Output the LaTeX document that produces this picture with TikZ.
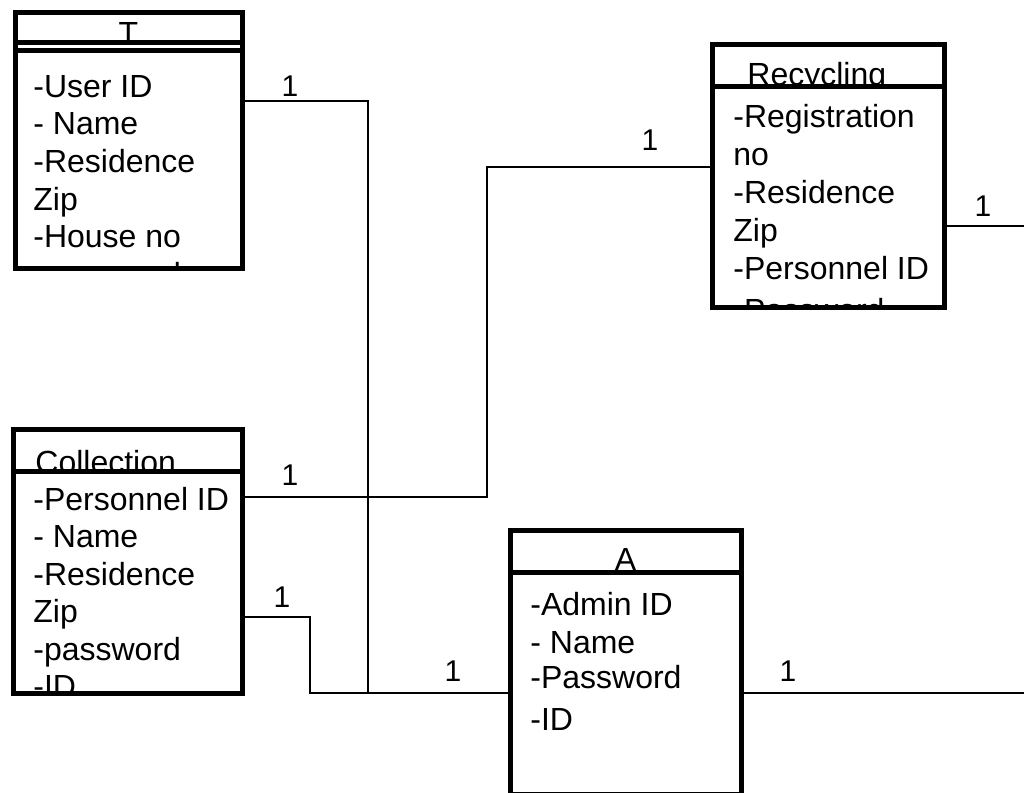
\documentclass[tikz,border=0pt]{standalone}
\usepackage{fontspec}
\setmainfont{Liberation Sans}
\usetikzlibrary{positioning,fit}

\begin{document}
\begin{tikzpicture}[x=0.5pt,y=-0.5pt]
	\tikzstyle{classbox}=[draw,line width=2.5pt,inner sep=0pt,outer sep=0pt]
	\tikzstyle{divider}=[line width=2.5pt]
	\tikzstyle{title}=[inner sep=0pt,font=\fontsize{16}{19}\selectfont]
	\tikzstyle{attr}=[inner sep=0pt,anchor=base west,font=\fontsize{16}{19}\selectfont]
	\tikzstyle{link}=[line width=1pt]
	\tikzstyle{mult}=[inner sep=0pt,font=\fontsize{15}{18}\selectfont]

	\useasboundingbox[fill=white] (0,0) rectangle (1024,793);

	% Class T
	\node[classbox,fit={(15,12) (242,268)}] (T) {};
	\begin{scope}
		\clip (T.north west) rectangle (T.east |- 0,42);
		\node[title,anchor=base] (T-title) at (128.5,44) {T};
	\end{scope}
	\draw[divider] (T.west |- 0,42.5) -- (T.east |- 0,42.5);
	\draw[divider] (T.west |- 0,50.5) -- (T.east |- 0,50.5);
	\begin{scope}
		\clip (T.south west) rectangle (T.north east);
		\foreach \t [count=\i] in {-User ID,- Name,-Residence,Zip,-House no,-password}
			\node[attr] (T-\i) at (33,{97+37.7*(\i-1)}) {\t};
	\end{scope}

	% Class Recycling
	\node[classbox,fit={(712,44) (944,307)}] (Rec) {};
	\begin{scope}
		\clip (Rec.north west) rectangle (Rec.east |- 0,86);
		\node[title,anchor=base west] (Rec-title) at (747,85) {Recycling};
	\end{scope}
	\draw[divider] (Rec.west |- 0,86) -- (Rec.east |- 0,86);
	\begin{scope}
		\clip (Rec.south west) rectangle (Rec.north east);
		\foreach \t [count=\i] in {-Registration,no,-Residence,Zip,-Personnel ID}
			\node[attr] (Rec-\i) at (733,{127+38*(\i-1)}) {\t};
		\node[attr] (Rec-6) at (733,321) {-Password};
	\end{scope}

	% Class Collection
	\node[classbox,fit={(13,429) (242,693)}] (Coll) {};
	\begin{scope}
		\clip (Coll.north west) rectangle (Coll.east |- 0,471);
		\node[title,anchor=base west] (Coll-title) at (35,473) {Collection};
	\end{scope}
	\draw[divider] (Coll.west |- 0,471) -- (Coll.east |- 0,471);
	\begin{scope}
		\clip (Coll.south west) rectangle (Coll.north east);
		\foreach \t [count=\i] in {-Personnel ID,- Name,-Residence,Zip,-password,-ID}
			\node[attr] (Coll-\i) at (33,{510+37.5*(\i-1)}) {\t};
	\end{scope}

	% Class A
	\node[classbox,fit={(510,530) (741,794)}] (A) {};
	\begin{scope}
		\clip (A.north west) rectangle (A.east |- 0,572);
		\node[title,anchor=base] (A-title) at (625.5,570) {A};
	\end{scope}
	\draw[divider] (A.west |- 0,572) -- (A.east |- 0,572);
	\foreach \y/\t [count=\i] in {615/-Admin ID,653/- Name,688/-Password,730/-ID}
		\node[attr] (A-\i) at (530,\y) {\t};

	% Associations
	\coordinate (edgeA) at (1024,693);
	\coordinate (edgeR) at (1024,226);
	\draw[link] (T.east |- 0,101) -| (368,693) -- (A.west |- 0,693);
	\draw[link] (Coll.east |- 0,617) -| (310,693) -- (A.west |- 0,693);
	\draw[link] (Coll.east |- 0,496.5) -| (487,167) -- (Rec.west |- 0,167);
	\draw[link] (A.east |- edgeA) -- (edgeA);
	\draw[link] (Rec.east |- edgeR) -- (edgeR);

	% Multiplicities
	\node[mult] (m-T) at (290,86) {1};
	\node[mult] (m-Coll1) at (290,475) {1};
	\node[mult] (m-Coll2) at (282,597) {1};
	\node[mult] (m-Rec1) at (650,140) {1};
	\node[mult] (m-Rec2) at (983,206) {1};
	\node[mult] (m-A1) at (453,671) {1};
	\node[mult] (m-A2) at (788,671) {1};
\end{tikzpicture}
\end{document}
